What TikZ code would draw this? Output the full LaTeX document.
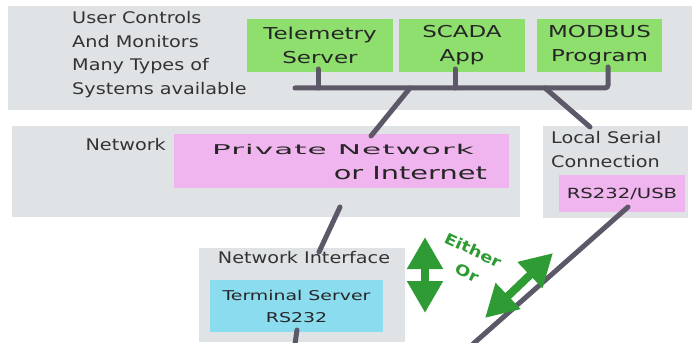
\documentclass[tikz,border=0pt]{standalone}
\usepackage{fontspec}
\setmainfont{DejaVu Sans}
\newfontfamily\labelfont[FakeStretch=1.2]{DejaVu Sans}
\newfontfamily\boxfont[FakeStretch=1.4]{DejaVu Sans}
\newfontfamily\netfont[FakeStretch=2.3,LetterSpace=8]{DejaVu Sans}
\newfontfamily\inetfont[FakeStretch=1.6]{DejaVu Sans}
\usetikzlibrary{positioning,arrows.meta}

\definecolor{bandgray}{HTML}{DFE3E5}
\definecolor{appgreen}{HTML}{8EDF6E}
\definecolor{netpink}{HTML}{F0B4EE}
\definecolor{termcyan}{HTML}{8ADCEE}
\definecolor{wiregray}{HTML}{5C5868}
\definecolor{eithergreen}{HTML}{2E9B35}
\definecolor{labelgray}{HTML}{333333}

\tikzset{
  band/.style={fill=bandgray, draw=none},
  appbox/.style={fill=appgreen, draw=none, inner sep=0pt, align=center,
    font=\boxfont\fontsize{16.4}{24}\selectfont, text=black!85},
  label/.style={inner sep=0pt, text=labelgray, font=\labelfont\fontsize{16}{23.4}\selectfont},
  wire/.style={wiregray, line width=5pt, line cap=round},
  either/.style={eithergreen, line width=8pt,
    {Triangle[width=34pt,length=32pt]}-{Triangle[width=34pt,length=32pt]}},
  eithertext/.style={rotate=-25, text=eithergreen, inner sep=0pt,
    font=\labelfont\bfseries\fontsize{15}{18}\selectfont},
}

\begin{document}
\begin{tikzpicture}[x=1pt, y=-1pt]
  \useasboundingbox (0,0) rectangle (692,342);

  % 背景の灰色の帯
  \fill[band] (8,6) rectangle (692,110);
  \fill[band] (12,126) rectangle (520,217);
  \fill[band] (543,126) rectangle (688,218);
  \fill[band] (199,248) rectangle (405,342);

  % 上段: ユーザー側のシステム
  \node[label, anchor=north west, align=left] (user) at (72,11.5)
    {User Controls\\And Monitors\\Many Types of\\Systems available};
  \node[appbox, minimum width=146pt, minimum height=53pt] (tele) at (320,45.5)
    {Telemetry\\Server};
  \node[appbox, minimum width=126pt, minimum height=53pt] (scada) at (462,45.5)
    {SCADA\\App};
  \node[appbox, minimum width=125pt, minimum height=53pt] (modbus) at (599.5,45.5)
    {MODBUS\\Program};

  % 中段: ネットワーク
  \node[label, anchor=east] (netlbl) at (166,145) {Network};
  \node[fill=netpink, minimum width=335pt, minimum height=54pt, inner sep=0pt] (pnet) at (341.5,161) {};
  \node[inner sep=0pt, text=black!85, font=\netfont\fontsize{13.5}{15}\selectfont] (pnettop) at (343,149)
    {Private Network};
  \node[inner sep=0pt, anchor=east, text=black!85, font=\inetfont\fontsize{18}{20}\selectfont] (pnetbot) at (487,173)
    {or Internet};

  \node[label, anchor=north west, align=left] (serlbl) at (551,131.5)
    {Local Serial\\Connection};
  \node[fill=netpink, minimum width=126pt, minimum height=37pt, inner sep=0pt,
    text=black!85, font=\boxfont\fontsize{14}{16}\selectfont] (rsusb) at (622,193.5) {RS232/USB};

  % 下段: ネットワークインターフェース
  \node[label] (nilbl) at (304,258) {Network Interface};
  \node[fill=termcyan, minimum width=173pt, minimum height=52pt, inner sep=0pt,
    align=center, text=black!85, font=\boxfont\fontsize{13.5}{22}\selectfont] (term) at (296.5,306)
    {Terminal Server\\RS232};

  % 配線の端点
  \coordinate (busL) at (295,88);
  \coordinate (busR) at (608,88);
  \coordinate (teleW) at (318,69);
  \coordinate (teleB) at (318,88);
  \coordinate (scadaW) at (455,69);
  \coordinate (scadaB) at (455,88);
  \coordinate (modbusW) at (608,67);
  \coordinate (busNet) at (410,88);
  \coordinate (pnetW) at (371,136);
  \coordinate (busSer) at (545,88);
  \coordinate (serW) at (590,127);
  \coordinate (pnetS) at (340,207);
  \coordinate (niW) at (319,252);
  \coordinate (rsusbS) at (628,207);
  \coordinate (serEnd) at (473,344);
  \coordinate (termS) at (297,330);
  \coordinate (termEnd) at (295,344);

  % 配線
  \draw[wire, rounded corners=3pt] (busL) -- (busR) -- (modbusW);
  \draw[wire] (teleW) -- (teleB);
  \draw[wire] (scadaW) -- (scadaB);
  \draw[wire] (busNet) -- (pnetW);
  \draw[wire] (busSer) -- (serW);
  \draw[wire] (pnetS) -- (niW);
  \draw[wire] (rsusbS) -- (serEnd);
  \draw[wire] (termS) -- (termEnd);

  % Either / Or の矢印
  \coordinate (eitherT) at (425,237);
  \coordinate (eitherB) at (425,313);
  \coordinate (orT) at (553,253);
  \coordinate (orB) at (485,318);
  \draw[either] (eitherT) -- (eitherB);
  \draw[either] (orB) -- (orT);
  \node[eithertext] (either) at (473,250) {Either};
  \node[eithertext] (or) at (467,273) {Or};

\end{tikzpicture}
\end{document}
